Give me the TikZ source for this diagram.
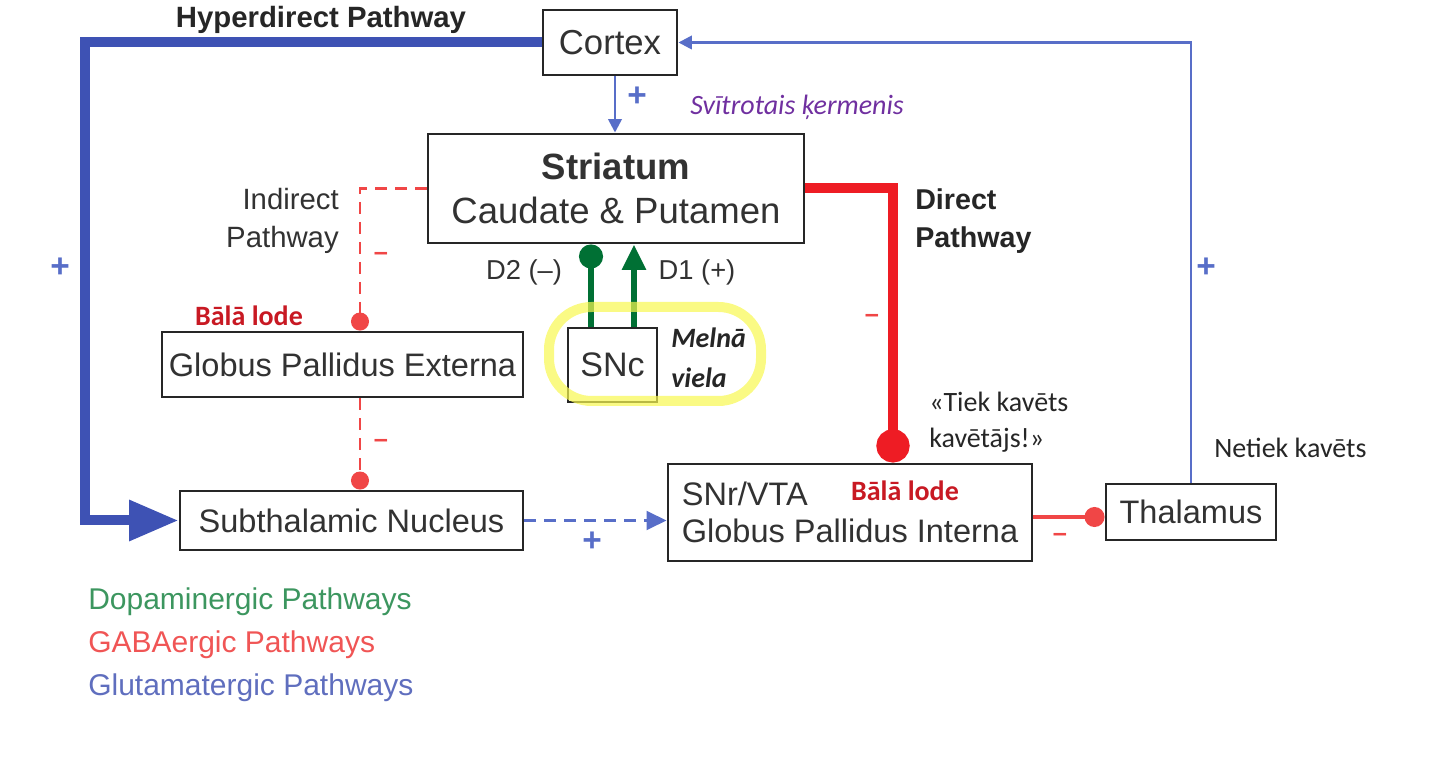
\documentclass[tikz,border=0pt]{standalone}
\usepackage{fontspec}
\setmainfont{Liberation Sans}
\newfontfamily\calfont{Carlito}
\usetikzlibrary{arrows.meta}
\definecolor{glublue}{RGB}{62,82,180}
\definecolor{glublue2}{RGB}{88,110,200}
\definecolor{gabared}{RGB}{238,28,36}
\definecolor{gabared2}{RGB}{240,70,70}
\definecolor{dopgreen}{RGB}{0,112,52}
\definecolor{hiyellow}{RGB}{248,248,80}
\definecolor{txtgray}{RGB}{50,50,50}
\definecolor{lodered}{RGB}{200,25,35}
\definecolor{purp}{RGB}{112,48,160}
\definecolor{legg}{RGB}{60,150,95}
\definecolor{legr}{RGB}{240,85,85}
\definecolor{legb}{RGB}{95,110,190}
\begin{document}
\begin{tikzpicture}[x=0.75pt,y=-0.75pt,
 box/.style={draw=black!85, line width=2.2pt, fill=white, inner sep=0pt, text=txtgray, font=\fontsize{24.4}{28}\selectfont},
 lbl/.style={inner sep=0pt, text=txtgray, font=\fontsize{22}{29}\selectfont},
 blbl/.style={inner sep=0pt, text=black!85, font=\bfseries\fontsize{21.5}{28.5}\selectfont},
 cal/.style={inner sep=0pt, text=black!85, font=\calfont\fontsize{21}{27}\selectfont},
 lode/.style={inner sep=0pt, text=lodered, font=\calfont\bfseries\fontsize{21}{25}\selectfont},
 plus/.style={inner sep=0pt, text=glublue2, font=\bfseries\fontsize{25}{28}\selectfont},
 minus/.style={inner sep=0pt, text=gabared2, font=\bfseries\fontsize{19}{24}\selectfont},
 hyperline/.style={draw=glublue, line width=7.5pt, -{Triangle[length=37pt,width=29pt]}},
 gluthin/.style={draw=glublue2, line width=1.9pt, -{Triangle[length=10pt,width=10pt]}},
 gludash/.style={draw=glublue2, line width=2.3pt, dash pattern=on 9pt off 6pt, -{Triangle[length=15pt,width=14pt]}},
 inddash/.style={draw=gabared2, line width=2.2pt, dash pattern=on 9pt off 6pt, -{Circle[length=13.5pt]}},
 directline/.style={draw=gabared, line width=7.5pt, -{Circle[length=25pt]}},
 gpiline/.style={draw=gabared2, line width=3pt, -{Circle[length=15pt]}},
 d2line/.style={draw=dopgreen, line width=4.5pt, -{Circle[length=18pt]}},
 d1line/.style={draw=dopgreen, line width=4.5pt, -{Triangle[length=19pt,width=17pt]}},
 legend/.style={inner sep=0pt, anchor=west, font=\fontsize{22.5}{27}\selectfont}
]
\useasboundingbox (0,0) rectangle (1440,780);

% boxes
\node[box, minimum width=100.5pt, minimum height=48.75pt, font=\fontsize{26}{30}\selectfont] (cortex) at (610,42.5) {Cortex};
\node[box, minimum width=282pt, minimum height=81.75pt, align=center, font=\fontsize{27.4}{33}\selectfont] (striatum) at (616,188.5) {\textbf{Striatum}\\Caudate \& Putamen};
\node[box, minimum width=270.75pt, minimum height=48.75pt] (gpe) at (342.5,364.5) {Globus Pallidus Externa};
\node[box, minimum width=66.75pt, minimum height=55.5pt, font=\fontsize{25.5}{30}\selectfont] (snc) at (612.5,365) {SNc};
\node[box, minimum width=257.25pt, minimum height=44.25pt] (stn) at (351.5,520.5) {Subthalamic Nucleus};
\node[box, minimum width=273pt, minimum height=72.75pt, align=left, font=\fontsize{24.4}{27.5}\selectfont] (snr) at (850,512.5) {SNr/VTA\\Globus Pallidus Interna};
\node[box, minimum width=127.5pt, minimum height=42pt] (thal) at (1191,512) {Thalamus};

% helper coordinates
\coordinate (hx) at (85,0);
\coordinate (ix) at (360,0);
\coordinate (dx) at (893,0);
\coordinate (cx) at (615,0);
\coordinate (d2x) at (591,0);
\coordinate (d1x) at (634,0);
\coordinate (gy) at (0,517);

% connectors
\draw[hyperline] (cortex.west) -- (cortex.west -| hx) |- (stn.west);
\draw[gluthin] (cortex.south -| cx) -- (striatum.north -| cx);
\draw[gluthin] (thal.north) |- (cortex.east);
\draw[inddash] (striatum.west) -| (gpe.north -| ix);
\draw[inddash] (gpe.south -| ix) -- (stn.north -| ix);
\draw[gludash] (stn.east) -- (stn.east -| snr.west);
\draw[directline] (striatum.east) -| (snr.north -| dx);
\draw[gpiline] (snr.east |- gy) -- (thal.west |- gy);
\draw[d2line] (snc.north -| d2x) -- (striatum.south -| d2x);
\draw[d1line] (snc.north -| d1x) -- (striatum.south -| d1x);

% highlighter
\draw[hiyellow, line width=7.5pt, opacity=0.7, rounded corners=32pt] (549,307) rectangle (761,401);

% labels
\node[blbl, font=\bfseries\fontsize{22}{25}\selectfont] (hyper) at (321,20) {Hyperdirect Pathway};
\node[cal, text=purp, font=\calfont\itshape\fontsize{21}{25}\selectfont, anchor=west] (svit) at (690,107) {Svītrotais ķermenis};
\node[lbl, align=right, anchor=east] (indlab) at (339,221) {Indirect\\Pathway};
\node[blbl, align=left, anchor=west] (dirlab) at (915,221) {Direct\\Pathway};
\node[lbl, font=\fontsize{20.5}{24}\selectfont] (d2lab) at (524,272) {D2 (–)};
\node[lbl, font=\fontsize{20.5}{24}\selectfont] (d1lab) at (697,272) {D1 (+)};
\node[lode] (lode1) at (249,316) {Bālā lode};
\node[lode] (lode2) at (905,491) {Bālā lode};
\node[cal, font=\calfont\bfseries\itshape\fontsize{21}{30}\selectfont, align=left, anchor=west] (melna) at (671,358) {Melnā\\viela};
\node[cal, align=left, anchor=west] (tiek) at (929,422) {«Tiek kavēts\\kavētājs!»};
\node[cal, anchor=west] (netiek) at (1214,448) {Netiek kavēts};

% signs
\node[plus] (p1) at (637,97) {+};
\node[plus] (p2) at (60,268) {+};
\node[plus] (p3) at (1206,268) {+};
\node[plus] (p4) at (592,542) {+};
\node[minus] (m1) at (381,256) {–};
\node[minus] (m2) at (381,443) {–};
\node[minus] (m3) at (872,318) {–};
\node[minus] (m4) at (1060,537) {–};

% legend
\node[legend, text=legg] (lg1) at (88,602) {Dopaminergic Pathways};
\node[legend, text=legr] (lg2) at (88,645) {GABAergic Pathways};
\node[legend, text=legb] (lg3) at (88,688) {Glutamatergic Pathways};
\end{tikzpicture}
\end{document}
